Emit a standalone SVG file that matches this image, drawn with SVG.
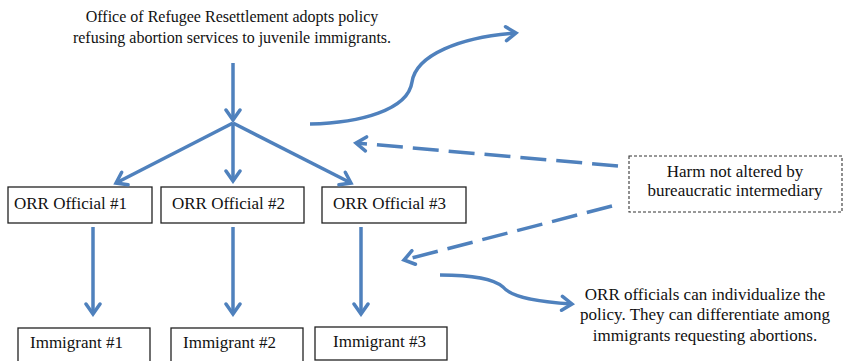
<svg xmlns="http://www.w3.org/2000/svg" width="845" height="361" viewBox="0 0 845 361">
<style>
text{font-family:'Liberation Serif','DejaVu Serif',serif;fill:#111;}
.box{fill:#fff;stroke:#222;stroke-width:1.3;}
.dbox{fill:#fff;stroke:#333;stroke-width:1.1;stroke-dasharray:3 2;}
.c{fill:none;stroke:#4F81BD;stroke-width:3.5;marker-end:url(#ah);}
.d{stroke-dasharray:26 10;}
</style>
<defs>
<marker id="ah" viewBox="-14 -9 17 18" refX="0" refY="0" markerWidth="17" markerHeight="18" orient="auto" markerUnits="userSpaceOnUse">
<path d="M-10,-7 L0,0 L-10,7" fill="none" stroke="#4F81BD" stroke-width="3.5" stroke-linecap="round"/>
</marker>
</defs>
<g id="policy">
<text font-family="Liberation Serif, serif" font-size="16" text-anchor="middle" x="232" y="22">Office of Refugee Resettlement adopts policy</text>
<text font-family="Liberation Serif, serif" font-size="16" text-anchor="middle" x="232" y="43">refusing abortion services to juvenile immigrants.</text>
</g>
<g id="official1"><rect class="box" x="8" y="187" width="144" height="36"/><text font-family="Liberation Serif, serif" font-size="17" x="14" y="209">ORR Official #1</text></g>
<g id="official2"><rect class="box" x="161" y="187" width="143" height="36"/><text font-family="Liberation Serif, serif" font-size="17" x="172" y="209">ORR Official #2</text></g>
<g id="official3"><rect class="box" x="322" y="187" width="144" height="36"/><text font-family="Liberation Serif, serif" font-size="17" x="333" y="209">ORR Official #3</text></g>
<g id="immigrant1"><rect class="box" x="18" y="328" width="132" height="36"/><text font-family="Liberation Serif, serif" font-size="17" x="30" y="348">Immigrant #1</text></g>
<g id="immigrant2"><rect class="box" x="171" y="328" width="132" height="36"/><text font-family="Liberation Serif, serif" font-size="17" x="183" y="348">Immigrant #2</text></g>
<g id="immigrant3"><rect class="box" x="315" y="327" width="132" height="33"/><text font-family="Liberation Serif, serif" font-size="17" x="333" y="347">Immigrant #3</text></g>
<g id="harm"><rect class="dbox" x="629" y="156" width="213" height="56"/>
<text font-family="Liberation Serif, serif" font-size="17" text-anchor="middle" x="735" y="177">Harm not altered by</text>
<text font-family="Liberation Serif, serif" font-size="17" text-anchor="middle" x="735" y="196">bureaucratic intermediary</text></g>
<g id="individualize">
<text font-family="Liberation Serif, serif" font-size="17" text-anchor="middle" x="705" y="300">ORR officials can individualize the</text>
<text font-family="Liberation Serif, serif" font-size="17" text-anchor="middle" x="705" y="320">policy. They can differentiate among</text>
<text font-family="Liberation Serif, serif" font-size="17" text-anchor="middle" x="705" y="341">immigrants requesting abortions.</text>
</g>
<g id="connectors">
<path class="c" d="M233,63 L233,120"/>
<path class="c" d="M233,123 L116,183"/>
<path class="c" d="M233,123 L233,181"/>
<path class="c" d="M233,123 L351,183"/>
<path class="c" d="M93,227 L93,314"/>
<path class="c" d="M233,227 L233,314"/>
<path class="c" d="M361,227 L361,314"/>
<path class="c" d="M310,124 C360,123 408,110 412,82 C416,55 460,37 516,33"/>
<path class="c" d="M440,275 C475,275 495,280 503,287 C512,298 540,302 572,304"/>
<path class="c d" d="M618,166 L356,143"/>
<path class="c d" d="M612,206 L404,260"/>
</g>
</svg>
